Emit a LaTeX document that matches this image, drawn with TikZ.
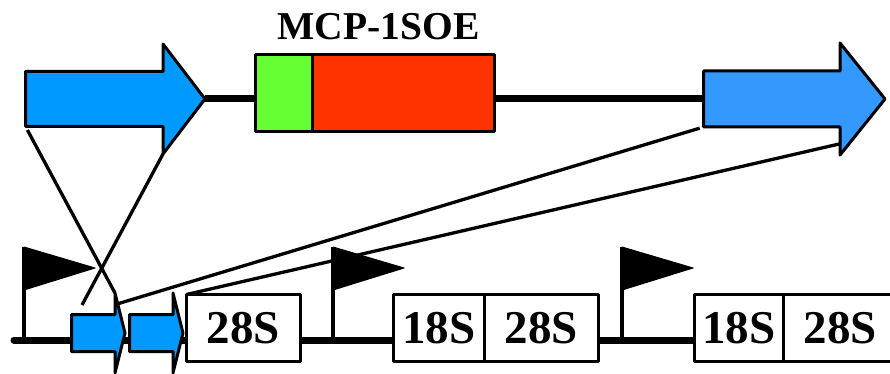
\documentclass[tikz,border=0pt]{standalone}
\usepackage{fontspec}
\setmainfont{Liberation Serif}
\usetikzlibrary{positioning,calc}
\definecolor{hitblue}{HTML}{0099FF}
\definecolor{genblue}{HTML}{3399FF}
\definecolor{soegreen}{HTML}{66FF33}
\definecolor{soered}{HTML}{FF3300}
\tikzset{
  outline/.style={draw=black, line width=3pt},
  % shaft length / head length / half shaft / half head
  pics/genearrow/.style args={#1/#2/#3/#4}{code={
    \coordinate (-tail) at (0,0);
    \draw[outline, pic actions] (0,-#3) coordinate (-tt) -- (#1,-#3) coordinate (-st)
      -- (#1,-#4) coordinate (-ht) -- (#1+#2,0) coordinate (-tip)
      -- (#1,#4) coordinate (-hb) -- (#1,#3) coordinate (-sb)
      -- (0,#3) coordinate (-tb) -- cycle;
  }},
}
\begin{document}
\begin{tikzpicture}[x=1pt, y=-1pt, line join=round,
  backbone/.style={line width=7pt},
  link/.style={line width=3.3pt},
  seg/.style={outline, inner sep=0pt, outer sep=0pt},
  rdna/.style={seg, fill=white, minimum height=67pt, font=\fontsize{47}{47}\selectfont\bfseries}]
  \useasboundingbox (0,0) rectangle (890,374);
  % chromosome and promoters
  \path (14,340) coordinate (chrL) (900,340) coordinate (chrR);
  \draw[backbone, line cap=round] (chrL) -- (chrR);
  \foreach \fx in {24,333,622}{
    \draw[link] (\fx,340) -- (\fx,247);
    \filldraw[line width=1pt] (\fx,247) -- ++(71,21) -- (\fx,290) -- cycle;
  }
  % rDNA repeats
  \node[rdna, minimum width=114pt] (s28a) at (243.5,328) {28S};
  \node[rdna, minimum width=91pt, anchor=west] (s18b) at (393.5,328) {18S};
  \node[rdna, minimum width=114pt, right=0pt of s18b] (s28b) {28S};
  \node[rdna, minimum width=89pt, anchor=west] (s18c) at (694.5,328) {18S};
  \node[rdna, minimum width=114pt, right=0pt of s18c] (s28c) {28S};
  \pic[fill=hitblue] (hitA) at (71.5,333) {genearrow=43.5/10/18.5/40};
  \pic[fill=hitblue] (hitB) at (129.5,333) {genearrow=43.5/10/18.5/40};
  % targeting construct
  \pic[fill=hitblue] (geneL) at (25.5,99) {genearrow=137.5/42/27.5/55};
  \pic[fill=genblue] (geneR) at (703.5,99) {genearrow=136.5/45/28/56};
  \node[seg, fill=soegreen, minimum width=56.5pt, minimum height=77pt] (soeG) at (283.75,93) {};
  \node[seg, fill=soered, minimum width=182.5pt, minimum height=77pt, right=0pt of soeG] (soeR) {};
  \node[anchor=base, font=\fontsize{39.5}{39.5}\selectfont\bfseries] (soe) at (378.5,40) {MCP-1SOE};
  \draw[backbone] (geneL-tip) -- (geneL-tip -| soeG.west);
  \draw[backbone] (soeR.east |- geneR-tail) -- (geneR-tail);
  % homology
  \coordinate (crossB) at (82,305);
  \draw[link, shorten <=4pt] (geneL-tb) -- (hitA-ht);
  \draw[link] (geneL-hb) -- (crossB);
  \draw[link, shorten <=4pt] (geneR-tb) -- ($(hitA-ht)!0.27!(hitA-tip)$);
  \draw[link] ($(geneR-sb)!0.6!(geneR-hb)$) -- (s28a.north west);
\end{tikzpicture}
\end{document}
